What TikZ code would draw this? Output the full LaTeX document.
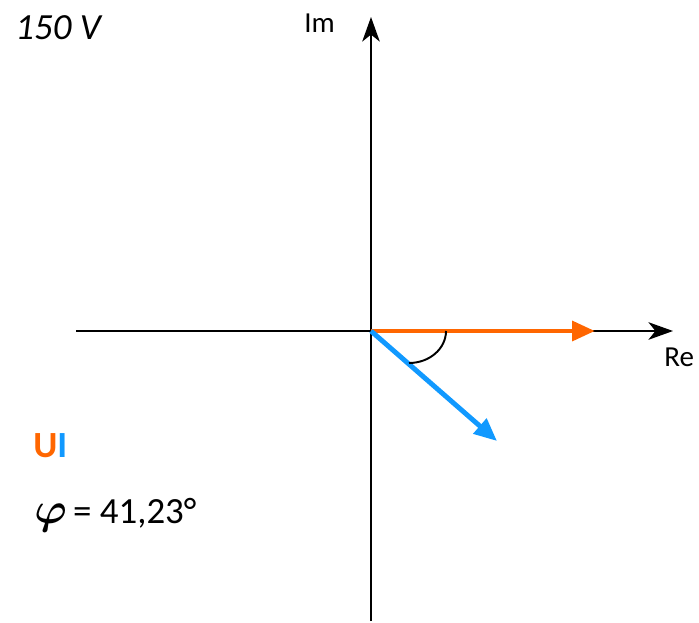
\documentclass[tikz,border=0pt]{standalone}
\usepackage{fontspec}
\setmainfont{Carlito}
\usepackage{xcolor}
\usetikzlibrary{arrows.meta}
\definecolor{phorange}{RGB}{255,102,0}
\definecolor{phblue}{RGB}{17,153,255}

\begin{document}
\begin{tikzpicture}[
    x=0.02cm,y=-0.02cm,
    axis/.style={line width=1.1pt,-{Stealth[length=14pt,width=10pt,inset=4pt]}},
    phasor/.style={line width=2.8pt,-{Triangle[length=13pt,width=11pt]}},
    axislabel/.style={font=\fontsize{16.5}{19}\selectfont,inner sep=0pt,anchor=base west},
    bigtext/.style={font=\fontsize{21}{25}\selectfont,inner sep=0pt,anchor=base west}
  ]
    \useasboundingbox (0,0) rectangle (699,622);
    % axes of the complex plane
    \coordinate (O) at (371,331);
    \coordinate (reL) at (76,331);
    \coordinate (reR) at (673,331);
    \coordinate (imB) at (371,621);
    \coordinate (imT) at (371,17);
    \draw[axis] (reL) -- (reR);
    \draw[axis] (imB) -- (imT);
    \node[axislabel] (re) at (664,366) {Re};
    \node[axislabel] (im) at (304,32) {Im};

    % phasors U and I, angle between them
    \coordinate (U) at (595,331);
    \coordinate (I) at (497,441);
    \draw[phasor,phorange] (O) -- (U);
    \draw[phasor,phblue] (O) -- (I);
    \coordinate (angS) at (446,331);
    \draw[line width=1.1pt] (angS) arc[start angle=0,end angle=90,
      x radius=37,y radius=32];

    \node[bigtext] (volt) at (15,39) {\itshape 150 V};
    \node[bigtext] (ui) at (33,457)
      {\bfseries\textcolor{phorange}{U}\textcolor{phblue}{I}};
    \node[bigtext] (phi) at (34,523)
      {{\fontsize{29}{32}\selectfont\boldmath$\varphi$}\,= 41,23°};
  \end{tikzpicture}
\end{document}
